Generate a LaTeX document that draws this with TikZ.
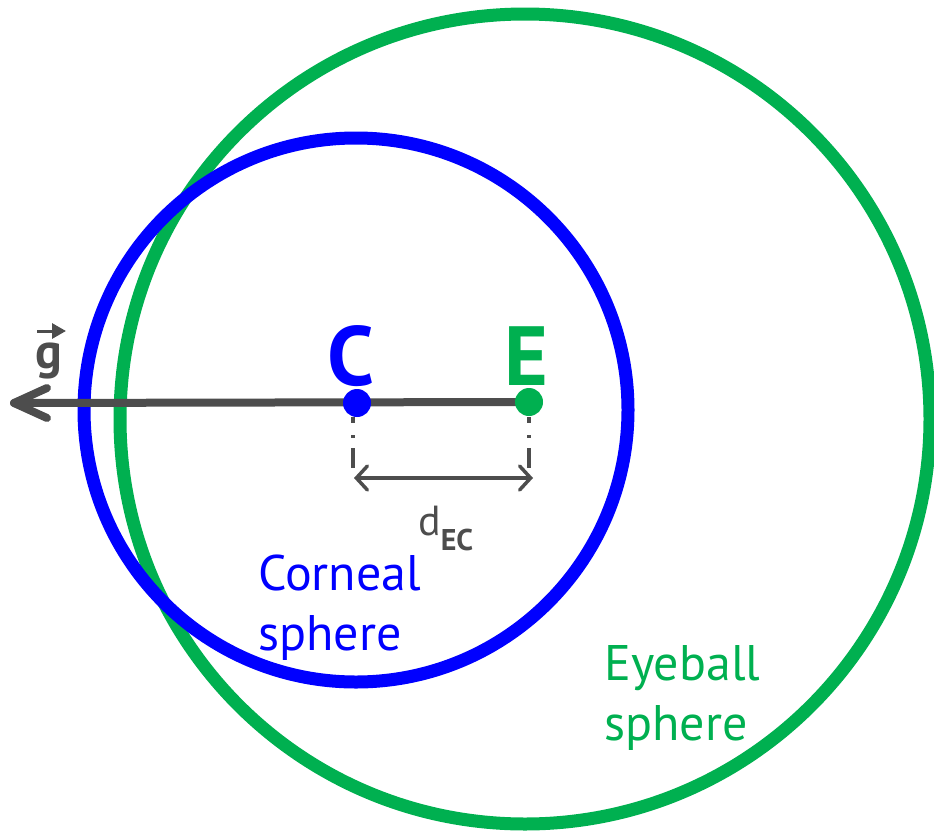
\documentclass[tikz,border=0pt]{standalone}
\usepackage{fontspec}
\setmainfont{PT Sans}
\usetikzlibrary{arrows.meta}
\definecolor{eyegreen}{HTML}{00B050}
\definecolor{cornblue}{HTML}{0000FF}
\definecolor{darkgr}{HTML}{4D4D4D}
\tikzset{
  ring/.style={line width=13pt},
  axisline/.style={darkgr, line width=8pt, line cap=round, line join=round},
  dotnode/.style={circle, inner sep=0pt, minimum size=28pt},
  dashdotline/.style={darkgr, line width=3.5pt, dash pattern=on 6pt off 12pt on 3pt off 10pt on 20pt off 100pt},
  dimline/.style={darkgr, line width=3.5pt, line cap=round, {Straight Barb[length=11pt,width=24pt,line cap=round]}-{Straight Barb[length=11pt,width=24pt,line cap=round]}},
  biglabel/.style={inner sep=0pt, anchor=base, font=\fontsize{84}{90}\selectfont\bfseries},
  spherelabel/.style={inner sep=0pt, anchor=base west, align=left, font=\fontsize{50}{60}\selectfont},
}
\begin{document}
\begin{tikzpicture}[x=1pt,y=-1pt]
\useasboundingbox (0,0) rectangle (934,838);
% spheres
\draw[ring, eyegreen] (525,419) circle[radius=405pt];
\draw[ring, cornblue] (356,410) circle[radius=272pt];
% centres
\coordinate (Epos) at (529,402);
\coordinate (Cpos) at (357,403);
\coordinate (tip) at (14,403);
\coordinate (armup) at (47,388);
\coordinate (armdn) at (47,418);
% gaze axis
\draw[axisline] (Epos) -- (tip);
\draw[axisline] (armup) -- (tip) -- (armdn);
\node[dotnode, fill=cornblue] (Cdot) at (Cpos) {};
\node[dotnode, fill=eyegreen] (Edot) at (Epos) {};
% labels C and E
\node[biglabel, cornblue] (Clab) at (351,385) {C};
\node[biglabel, eyegreen] (Elab) at (526,385) {E};
% gaze vector label
\node[inner sep=0pt, anchor=base, darkgr, font=\fontsize{50}{55}\selectfont\bfseries] (glab) at (49,368) {g};
\coordinate (vecA) at (37,331);
\coordinate (vecB) at (66,331);
\draw[darkgr, line width=3pt, -{Triangle[length=14pt,width=15pt]}] (vecA) -- (vecB);
% distance marks
\coordinate (dC1) at (353,417);
\coordinate (dC2) at (353,468);
\coordinate (dE1) at (529,417);
\coordinate (dE2) at (529,468);
\draw[dashdotline] (dC1) -- (dC2);
\draw[dashdotline] (dE1) -- (dE2);
\coordinate (arL) at (354,478);
\coordinate (arR) at (533,478);
\draw[dimline] (arL) -- (arR);
\node[inner sep=0pt, anchor=base west, darkgr] (dlab) at (418,535) {\fontsize{42}{44}\selectfont d\raisebox{-15pt}{\fontsize{30}{32}\selectfont\bfseries EC}};
% sphere names
\node[spherelabel, cornblue] (cornlab) at (258,650) {Corneal\\sphere};
\node[spherelabel, eyegreen] (eyelab) at (604,740) {Eyeball\\sphere};
\end{tikzpicture}
\end{document}
